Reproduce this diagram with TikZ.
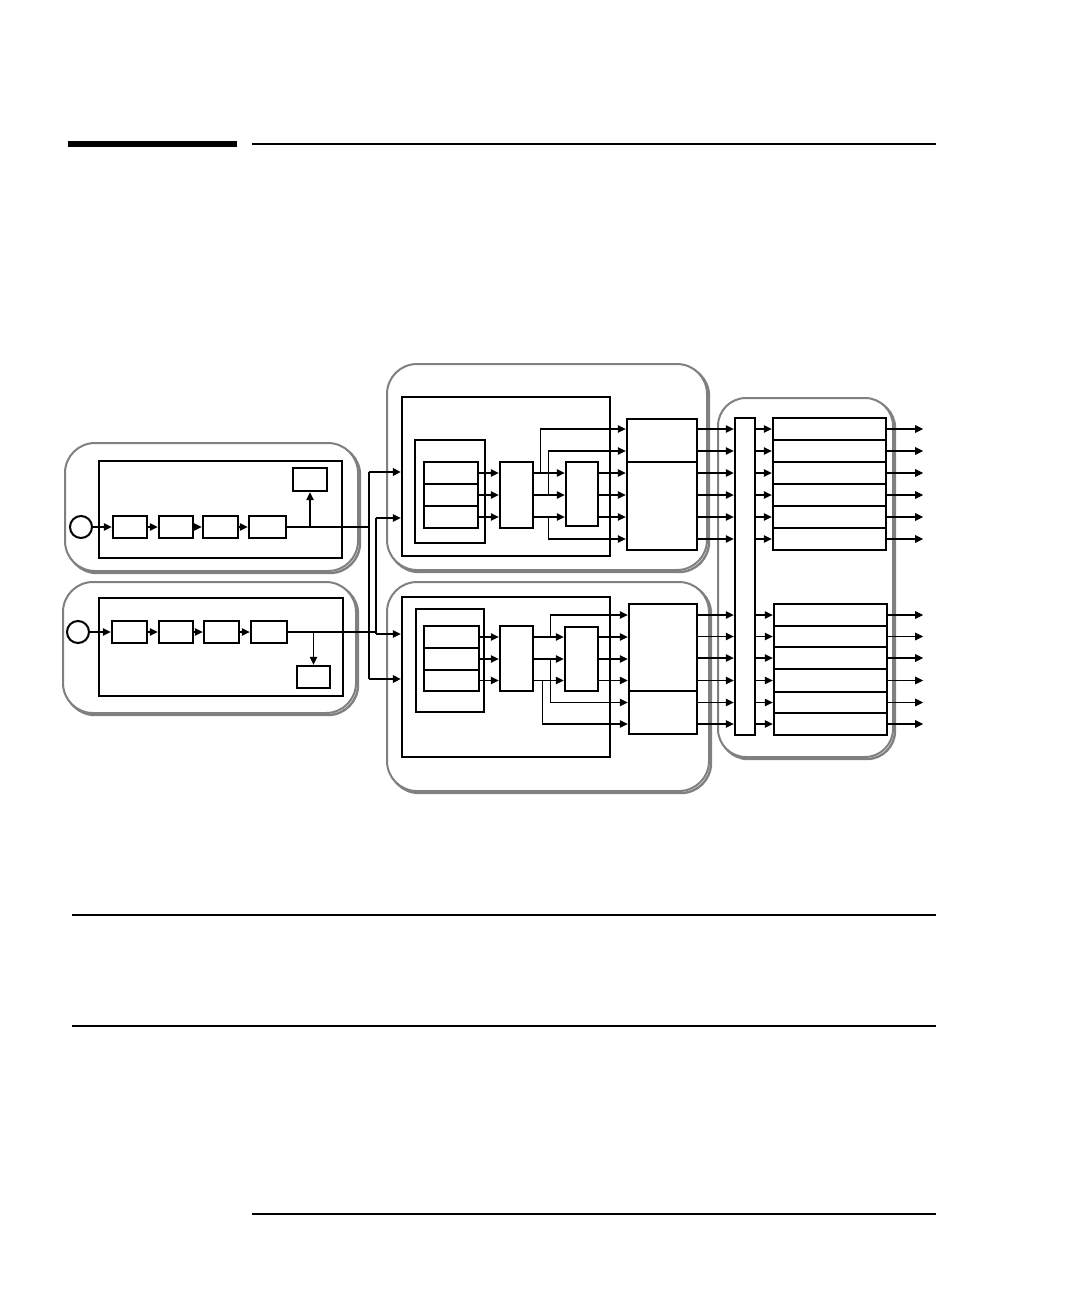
\documentclass[tikz,border=0pt]{standalone}
\usetikzlibrary{arrows.meta,calc}
\tikzset{
 box/.style={draw, line width=2.4pt, rectangle, inner sep=0pt, fill=white},
 circ/.style={draw, circle, line width=2pt, minimum size=22pt, inner sep=0pt},
 conn/.style={line width=1.2pt},
 arr/.style={conn, -{Triangle[length=8pt,width=7.5pt]}},
 thickarr/.style={line width=2.2pt, -{Triangle[length=8pt,width=7.5pt]}},
 grp/.style={draw=black!50, line width=2pt, rounded corners=30pt, fill=white},
 grpshadow/.style={draw=black!50, line width=2.4pt, rounded corners=30pt},
 rule/.style={line width=1.3pt}
}
\newcommand\bx[6][]{\node[box,#1,minimum width={#5-#3},minimum height={#6-#4}] (#2) at ({(#3+#5)/2},{(#4+#6)/2}) {};}
\begin{document}
\begin{tikzpicture}[x=1pt,y=-1pt]
\useasboundingbox (0,0) rectangle (1080,1296);
% page rules
\fill (68,141) rectangle (237,147);
\draw[rule] (252,144) -- (936,144);
\draw[rule] (72,915) -- (936,915);
\draw[rule] (72,1026) -- (936,1026);
\draw[rule] (252,1214) -- (936,1214);

% group outlines
\draw[grpshadow] (67,445) rectangle (360,573);
\draw[grp] (65,443) rectangle (358,571);
\draw[grpshadow] (65,584) rectangle (358,715);
\draw[grp] (63,582) rectangle (356,713);
\draw[grpshadow] (389,366) rectangle (709,572);
\draw[grp] (387,364) rectangle (707,570);
\draw[grpshadow] (389,584) rectangle (711,793);
\draw[grp] (387,582) rectangle (709,791);
\draw[grpshadow, rounded corners=28pt] (720,400) rectangle (895,759);
\draw[grp, rounded corners=28pt] (718,398) rectangle (893,757);

% ---------- top-left group ----------
\bx{TL}{99}{461}{342}{558}
\node[circ] (tc) at (81,527) {};
\bx{ta1}{113}{516}{147}{538}
\bx{ta2}{159}{516}{193}{538}
\bx{ta3}{203}{516}{238}{538}
\bx{ta4}{249}{516}{286}{538}
\bx{tout}{293}{468}{327}{491}
\draw[arr] (tc) -- (ta1);
\draw[arr] (ta1) -- (ta2);
\draw[arr] (ta2) -- (ta3);
\draw[arr] (ta3) -- (ta4);
\draw[arr] (tout.south |- ta4.east) -- (tout.south);

% ---------- bottom-left group ----------
\bx{BL}{99}{598}{343}{696}
\node[circ] (bc) at (78,632) {};
\bx{bb1}{112}{621}{147}{643}
\bx{bb2}{159}{621}{193}{643}
\bx{bb3}{204}{621}{239}{643}
\bx{bb4}{251}{621}{287}{643}
\bx{bout}{297}{666}{330}{688}
\draw[arr] (bc) -- (bb1);
\draw[arr] (bb1) -- (bb2);
\draw[arr] (bb2) -- (bb3);
\draw[arr] (bb3) -- (bb4);
\draw[arr] (bout.north |- bb4.east) -- (bout.north);

% ---------- upper middle group ----------
\bx{U}{402}{397}{610}{556}
\bx{Us}{415}{440}{485}{543}
\bx{u1}{424}{462}{478}{484}
\bx{u2}{424}{484}{478}{506}
\bx{u3}{424}{506}{478}{528}
\bx{UB}{500}{462}{533}{528}
\bx{UC}{566}{462}{598}{526}
\bx{UT}{627}{419}{697}{462}
\bx{UM}{627}{462}{697}{550}

% ---------- lower middle group ----------
\bx{L}{402}{597}{610}{757}
\bx{Ls}{416}{609}{484}{712}
\bx{l1}{424}{626}{479}{648}
\bx{l2}{424}{648}{479}{670}
\bx{l3}{424}{670}{479}{691}
\bx{LB}{500}{626}{533}{691}
\bx{LC}{565}{627}{598}{691}
\bx{LT}{629}{604}{697}{691}
\bx{LM}{629}{691}{697}{734}

% ---------- right group ----------
\bx{R}{735}{418}{755}{735}
\foreach \i/\ya/\yb in {1/418/440,2/440/462,3/462/484,4/484/506,5/506/528,6/528/550}{
  \bx{ra\i}{773}{\ya}{886}{\yb}
}
\foreach \i/\ya/\yb in {1/604/626,2/626/647,3/647/669,4/669/692,5/692/713,6/713/735}{
  \bx{rb\i}{774}{\ya}{887}{\yb}
}
\foreach \i in {1,...,6}{
  \draw[arr] (R.east |- ra\i.west) -- (ra\i.west);
  \draw[arr] (ra\i.east) -- ++(36,0);
  \draw[arr] (R.east |- rb\i.west) -- (rb\i.west);
  \draw[arr] (rb\i.east) -- ++(35,0);
}

% ---------- buses from left groups ----------
\coordinate (busT) at (369,472);
\coordinate (busB) at (369,679);
\coordinate (bus2T) at (376,518);
\coordinate (bus2B) at (376,634);
\draw[conn] (ta4.east) -- (ta4.east -| busT);
\draw[line width=1.8pt] (bb4.east) -- (bb4.east -| bus2T);
\draw[line width=2.4pt] (busT) -- (busB);
\draw[thickarr] (busT) -- (U.west |- busT);
\draw[thickarr] (busB) -- (L.west |- busB);
\draw[conn] (bus2T) -- (bus2B);
\draw[arr] (bus2T) -- (U.west |- bus2T);
\draw[arr] (bus2B) -- (L.west |- bus2B);

% ---------- upper middle connectors ----------
\foreach \n in {u1,u2,u3}{
  \draw[arr] (\n.east) -- (UB.west |- \n.east);
  \draw[arr] (UB.east |- \n.east) -- (UC.west |- \n.east);
  \draw[arr] (UC.east |- \n.east) -- (UM.west |- \n.east);
}
\draw[arr] ($(UB.east |- u1.east)+(6,0)$) |- (UT.west |- ra1.west);
\draw[arr] ($(UB.east |- u2.east)+(14,0)$) |- (UT.west |- ra2.west);
\draw[arr] ($(UB.east |- u3.east)+(14,0)$) |- (UM.west |- ra6.west);
\draw[arr] (UT.east |- ra1.west) -- (R.west |- ra1.west);
\draw[arr] (UT.east |- ra2.west) -- (R.west |- ra2.west);
\foreach \i in {3,...,6}{
  \draw[arr] (UM.east |- ra\i.west) -- (R.west |- ra\i.west);
}

% ---------- lower middle connectors ----------
\foreach \n in {l1,l2,l3}{
  \draw[arr] (\n.east) -- (LB.west |- \n.east);
  \draw[arr] (LB.east |- \n.east) -- (LC.west |- \n.east);
  \draw[arr] (LC.east |- \n.east) -- (LT.west |- \n.east);
}
\draw[arr] ($(LB.east |- l1.east)+(16,0)$) |- (LT.west |- rb1.west);
\draw[arr] ($(LB.east |- l2.east)+(16,0)$) |- (LM.west |- rb5.west);
\draw[arr] ($(LB.east |- l3.east)+(8,0)$) |- (LM.west |- rb6.west);
\foreach \i in {1,...,4}{
  \draw[arr] (LT.east |- rb\i.west) -- (R.west |- rb\i.west);
}
\draw[arr] (LM.east |- rb5.west) -- (R.west |- rb5.west);
\draw[arr] (LM.east |- rb6.west) -- (R.west |- rb6.west);
\end{tikzpicture}
\end{document}
